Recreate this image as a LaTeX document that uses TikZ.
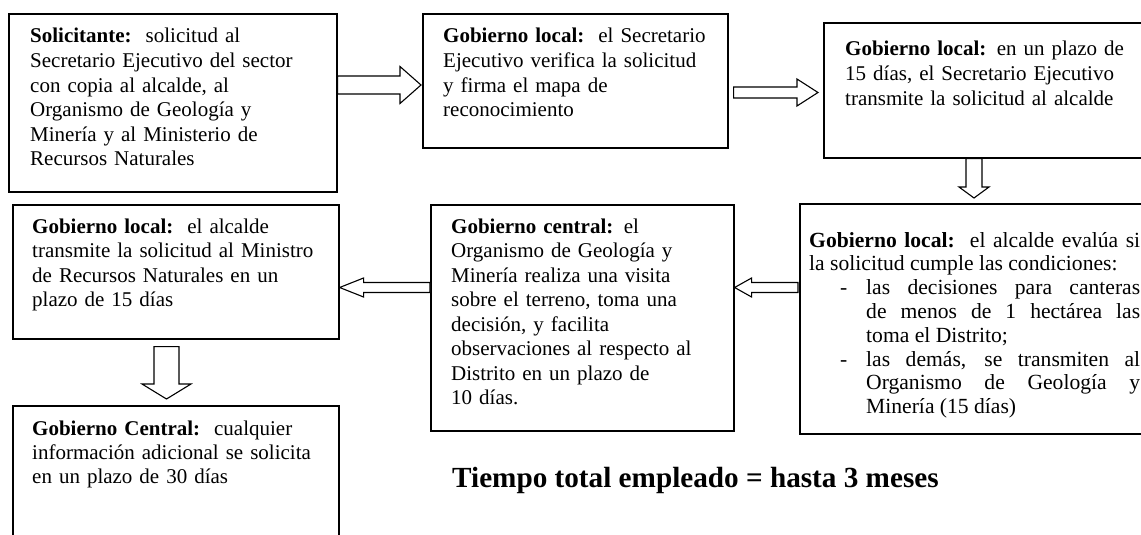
\documentclass[tikz,border=0pt]{standalone}
\usepackage{fontspec}
\setmainfont{Liberation Serif}
\usetikzlibrary{calc}
\tikzset{
  box/.style={draw, line width=1.6pt, inner sep=0pt, anchor=north west},
  txt/.style={anchor=base west, inner sep=0pt, text width=320pt, align=left, font=\fontsize{21}{24.6}\selectfont},
  blockarrow/.style={draw, fill=white, line width=1.1pt, line join=miter}
}
% horizontal block arrow from node #1 to node #2, shaft half #3, head half #4, head length #5
\newcommand\myHArrow[5]{\draw[blockarrow] let \p1=(#1),\p2=(#2),\n1={ifthenelse(\x2>\x1,1,-1)},\n2={\x2-\n1*#5} in
     (\x1,\y1+#3) -- (\n2,\y1+#3) -- (\n2,\y1+#4) -- (\x2,\y1)
     -- (\n2,\y1-#4) -- (\n2,\y1-#3) -- (\x1,\y1-#3) -- cycle;}
% vertical block arrow
\newcommand\myVArrow[5]{\draw[blockarrow] let \p1=(#1),\p2=(#2),\n1={ifthenelse(\y2>\y1,1,-1)},\n2={\y2-\n1*#5} in
     (\x1+#3,\y1) -- (\x1+#3,\n2) -- (\x1+#4,\n2) -- (\x1,\y2)
     -- (\x1-#4,\n2) -- (\x1-#3,\n2) -- (\x1-#3,\y1) -- cycle;}
\begin{document}
\begin{tikzpicture}[x=1pt,y=1pt]
\useasboundingbox (0,0) rectangle (1141,-535);
\clip (0,0) rectangle (1141,-535);
% boxes
\node[box, minimum width=328pt, minimum height=178pt] (b1) at (8,-13) {};
\node[box, minimum width=305pt, minimum height=134pt] (b2) at (422,-13) {};
\node[box, minimum width=330pt, minimum height=135pt] (b3) at (823,-22) {};
\node[box, minimum width=355pt, minimum height=230pt] (b4) at (799,-203) {};
\node[box, minimum width=303pt, minimum height=226pt] (b5) at (430,-204) {};
\node[box, minimum width=326pt, minimum height=134pt] (b6) at (12,-204) {};
\node[box, minimum width=326pt, minimum height=150pt] (b7) at (12,-405) {};
% texts
\node[txt] (t1) at ($(b1.north west)+(22,-30)$) {\textbf{Solicitante:}\ \ solicitud al\\Secretario Ejecutivo del sector\\con copia al alcalde, al\\Organismo de Geología y\\Minería y al Ministerio de\\Recursos Naturales};
\node[txt] (t2) at ($(b2.north west)+(21,-30)$) {\textbf{Gobierno local:}\ \ el Secretario\\Ejecutivo verifica la solicitud\\y firma el mapa de\\reconocimiento};
\node[txt] (t3) at ($(b3.north west)+(22,-34)$) {\textbf{Gobierno local:} en un plazo de\\15 días, el Secretario Ejecutivo\\transmite la solicitud al alcalde};
\node[anchor=base west, inner sep=0pt, text width=331pt, align=justify, font=\fontsize{21.6}{23.8}\selectfont] (t4) at ($(b4.north west)+(10,-44)$)
 {\textbf{Gobierno local:}\ \ el alcalde evalúa si\linebreak la solicitud cumple las condiciones:\par
  \hangindent=57pt\hangafter=0\noindent\llap{-\hspace{19pt}}las decisiones para canteras\linebreak de menos de 1 hectárea las\linebreak toma el Distrito;\par
  \hangindent=57pt\hangafter=0\noindent\llap{-\hspace{19pt}}las demás, se transmiten al\linebreak Organismo de Geología y\linebreak Minería (15 días)\par};
\node[txt, font=\fontsize{21}{24.5}\selectfont] (t5) at ($(b5.north west)+(21,-29)$) {\textbf{Gobierno central:} el\\Organismo de Geología y\\Minería realiza una visita\\sobre el terreno, toma una\\decisión, y facilita\\observaciones al respecto al\\Distrito en un plazo de\\10 días.};
\node[txt] (t6) at ($(b6.north west)+(20,-29)$) {\textbf{Gobierno local:}\ \ el alcalde\\transmite la solicitud al Ministro\\de Recursos Naturales en un\\plazo de 15 días};
\node[txt, font=\fontsize{21}{24}\selectfont] (t7) at ($(b7.north west)+(20,-30)$) {\textbf{Gobierno Central:}\ \ cualquier\\información adicional se solicita\\en un plazo de 30 días};
\node[anchor=base west, inner sep=0pt, font=\fontsize{29.2}{35}\selectfont\bfseries] (total) at (452,-487) {Tiempo total empleado = hasta 3 meses};
% block arrows
\coordinate (a1s) at ($(b1.north east)+(0,-72)$);
\coordinate (a1e) at ($(b2.west |- a1s)+(-1,0)$);
\myHArrow{a1s}{a1e}{9pt}{18.5pt}{21pt}
\coordinate (a2s) at ($(b2.north east)+(5,-79.5)$);
\coordinate (a2e) at ($(b3.west |- a2s)+(-5,0)$);
\myHArrow{a2s}{a2e}{5.5pt}{13.5pt}{21pt}
\coordinate (a3s) at ($(b3.south west)+(151,0)$);
\coordinate (a3e) at ($(a3s |- b4.north)+(0,5)$);
\myVArrow{a3s}{a3e}{8pt}{15pt}{11pt}
\coordinate (a4s) at ($(b4.north west)+(-1,-84.5)$);
\coordinate (a4e) at (b5.east |- a4s);
\myHArrow{a4s}{a4e}{5pt}{9.5pt}{17pt}
\coordinate (a5s) at ($(b5.north west)+(0,-83.5)$);
\coordinate (a5e) at (b6.east |- a5s);
\myHArrow{a5s}{a5e}{5pt}{9.5pt}{24pt}
\coordinate (a6s) at ($(b6.south west)+(154.5,-7)$);
\coordinate (a6e) at ($(a6s |- b7.north)+(0,6)$);
\myVArrow{a6s}{a6e}{12.5pt}{24.5pt}{15pt}
\end{tikzpicture}
\end{document}
